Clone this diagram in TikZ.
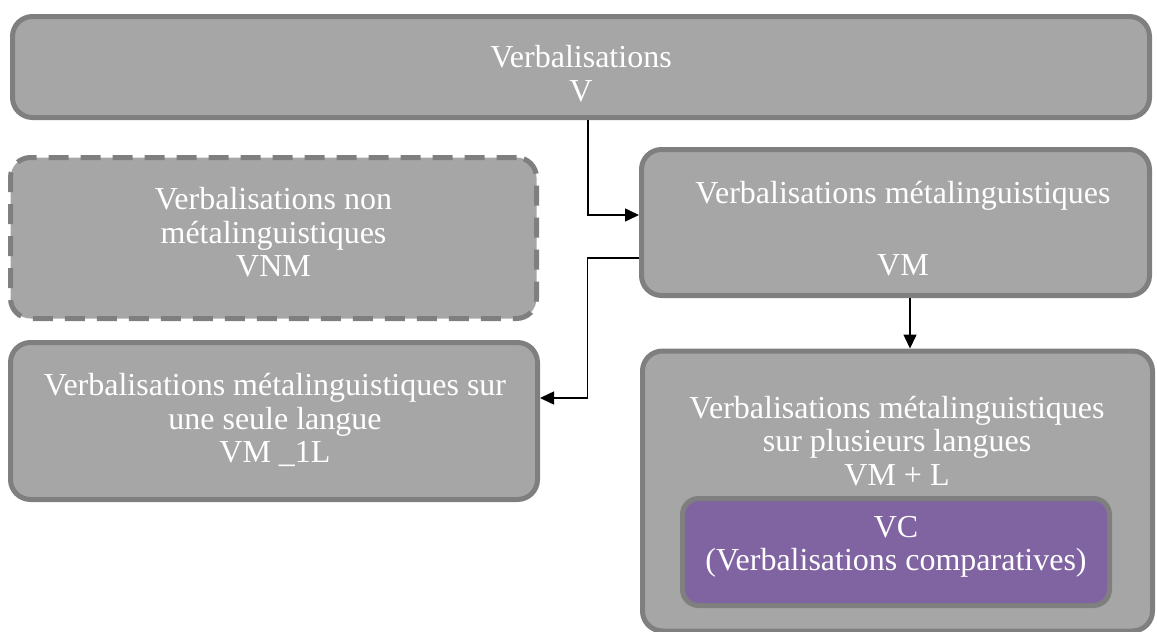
\documentclass[tikz,border=0pt]{standalone}
\usepackage{fontspec}
\setmainfont{Liberation Serif}
\usetikzlibrary{arrows.meta}
\definecolor{boxfill}{HTML}{A6A6A6}
\definecolor{boxline}{HTML}{7F7F7F}
\definecolor{vcfill}{HTML}{8064A2}
\tikzset{
  gbox/.style={draw=boxline, fill=boxfill, line width=5pt, rounded corners=20pt, inner sep=0pt},
  dbox/.style={gbox, dash pattern=on 20pt off 12pt},
  vcbox/.style={gbox, fill=vcfill, rounded corners=16pt},
  txt/.style={text=white, align=center, inner sep=0pt, font=\fontsize{32}{33.5}\selectfont},
  arr/.style={draw=black, line width=1.5pt, -{Triangle[length=14pt,width=13pt]}}
}
\begin{document}
\begin{tikzpicture}[x=1pt,y=-1pt]
\useasboundingbox (0,0) rectangle (1157,632);
\begin{scope}
\clip (0,0) rectangle (1157,632);
\node[gbox, minimum width=1137pt, minimum height=101pt] (V) at (581,67) {};
\node[txt] (Vt) at (581,73.5) {Verbalisations\\V};
\node[dbox, minimum width=526pt, minimum height=161pt] (VNM) at (273.5,238) {};
\node[txt] (VNMt) at (273.5,232.5) {Verbalisations non\\métalinguistiques\\VNM};
\node[gbox, minimum width=508pt, minimum height=146pt] (VM) at (895.5,222.5) {};
\node[txt] (VMt) at (903,229) {Verbalisations métalinguistiques\\[38.5pt]VM};
\node[gbox, minimum width=527pt, minimum height=157pt] (VM1L) at (274,421) {};
\node[txt] (VM1Lt) at (275,420) {Verbalisations métalinguistiques sur\\une seule langue\\VM \_1L};
\node[gbox, minimum width=510pt, minimum height=280pt] (VML) at (897.5,491) {};
\node[txt] (VMLt) at (897,441) {Verbalisations métalinguistiques\\sur plusieurs langues\\VM + L};
\node[vcbox, minimum width=427pt, minimum height=107pt] (VC) at (896,552) {};
\node[txt] (VCt) at (896,547) {VC\\(Verbalisations comparatives)};
\draw[arr] ([xshift=7pt]V.south) |- ([yshift=7.5pt]VM.west);
\draw[arr] ([yshift=-35.5pt]VM.west) -- ++(-51.5,0) |- ([yshift=23pt]VM1L.east);
\draw[arr] ([xshift=14.5pt]VM.south) -- ([xshift=14.5pt]VM.south |- VML.north);
\end{scope}
\end{tikzpicture}
\end{document}
